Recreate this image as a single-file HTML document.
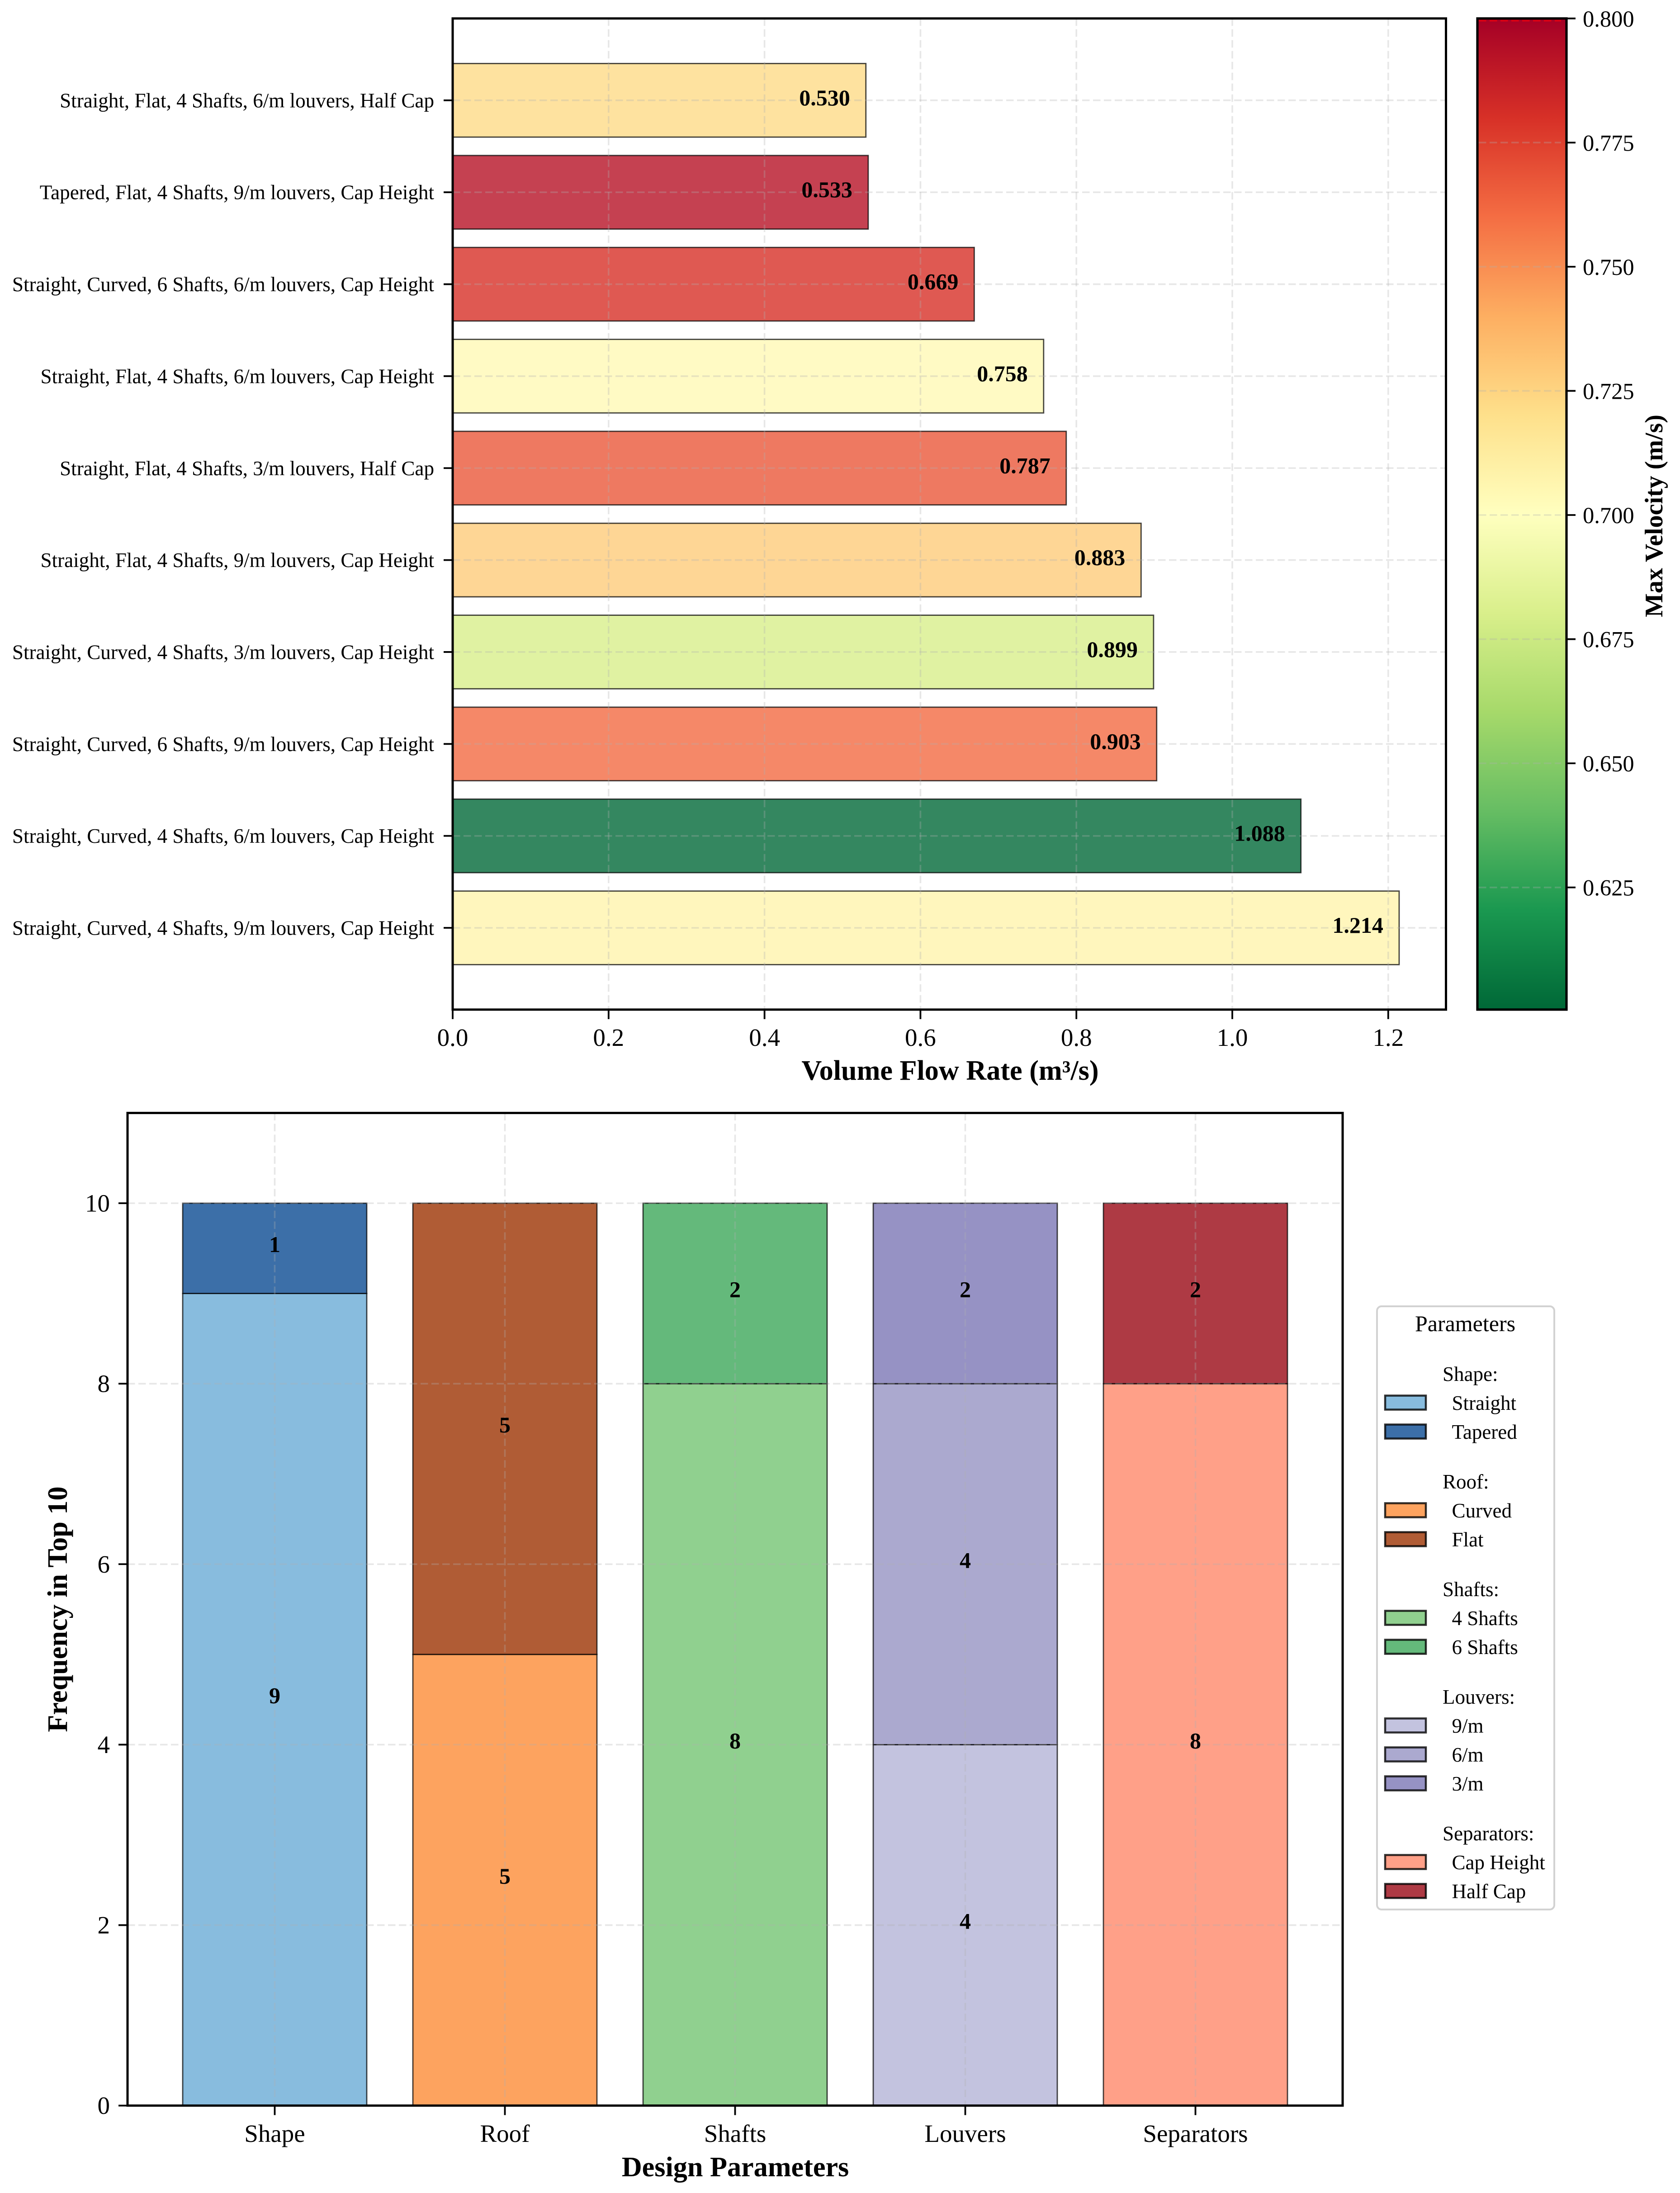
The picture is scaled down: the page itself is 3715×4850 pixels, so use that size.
<!DOCTYPE html>
<html lang="en">
<head>
<meta charset="utf-8">
<title>Top 10 ventilation designs: flow rate and parameter frequency</title>
<style>
html,body{margin:0;padding:0;background:#fff;}
svg{display:block;}
text{font-family:"Liberation Serif","Times New Roman",serif;fill:#000;}
</style>
</head>
<body>
<svg id="chart" xmlns="http://www.w3.org/2000/svg" width="3715" height="4850" viewBox="0 0 3715 4850">
  <defs>
    <linearGradient id="cbar-gradient" x1="0" y1="1" x2="0" y2="0"></linearGradient>
  </defs>
  <rect x="0" y="0" width="3715" height="4850" fill="#fff"/>
  <g id="flow-group"></g>
  <g id="cbar-group"></g>
  <g id="freq-group"></g>
  <g id="legend-group"></g>
</svg>
<script>
// ---------- data: flow chart (listed bottom bar first) ----------
const designNames = [
  'Straight, Curved, 4 Shafts, 9/m louvers, Cap Height',
  'Straight, Curved, 4 Shafts, 6/m louvers, Cap Height',
  'Straight, Curved, 6 Shafts, 9/m louvers, Cap Height',
  'Straight, Curved, 4 Shafts, 3/m louvers, Cap Height',
  'Straight, Flat, 4 Shafts, 9/m louvers, Cap Height',
  'Straight, Flat, 4 Shafts, 3/m louvers, Half Cap',
  'Straight, Flat, 4 Shafts, 6/m louvers, Cap Height',
  'Straight, Curved, 6 Shafts, 6/m louvers, Cap Height',
  'Tapered, Flat, 4 Shafts, 9/m louvers, Cap Height',
  'Straight, Flat, 4 Shafts, 6/m louvers, Half Cap'
];
const flowRates = [1.214, 1.088, 0.903, 0.899, 0.883, 0.787, 0.758, 0.669, 0.533, 0.530];
const maxVelocities = [0.707, 0.601, 0.761, 0.680, 0.728, 0.767, 0.704, 0.780, 0.793, 0.722];
const flowTicks = [0.0, 0.2, 0.4, 0.6, 0.8, 1.0, 1.2];
const velocityTicks = [0.625, 0.650, 0.675, 0.700, 0.725, 0.750, 0.775, 0.800];
const velocityMin = 0.6004;
const velocityMax = 0.8;

// ---------- data: frequency chart ----------
const paramNames = ['Shape', 'Roof', 'Shafts', 'Louvers', 'Separators'];
const optionLabels = [
  ['Straight', 'Tapered'],
  ['Curved', 'Flat'],
  ['4 Shafts', '6 Shafts'],
  ['9/m', '6/m', '3/m'],
  ['Cap Height', 'Half Cap']
];
const optionCounts = [
  [9, 1],
  [5, 5],
  [8, 2],
  [4, 4, 2],
  [8, 2]
];
const optionColors = [
  ['#88bcde', '#3c6fa8'],
  ['#fda35f', '#b05c35'],
  ['#90d08f', '#64b97b'],
  ['#c3c3df', '#aba9cf', '#9692c4'],
  ['#ffa088', '#ae3a44']
];
const frequencyTicks = [0, 2, 4, 6, 8, 10];

// ---------- colormap ----------
const rdYlGnR = ['#006837','#1a9850','#66bd63','#a6d96a','#d9ef8b','#ffffbf','#fee08b','#fdae61','#f46d43','#d73027','#a50026'];
function hexRgb(h){return [1,3,5].map(i=>parseInt(h.substr(i,2),16));}
function cmap(t){
  t=Math.max(0,Math.min(1,t));
  const p=t*(rdYlGnR.length-1), i=Math.min(Math.floor(p),rdYlGnR.length-2), f=p-i;
  const a=hexRgb(rdYlGnR[i]), b=hexRgb(rdYlGnR[i+1]);
  return 'rgb('+a.map((c,k)=>Math.round(c+(b[k]-c)*f)).join(',')+')';
}

// ---------- helpers ----------
const NS='http://www.w3.org/2000/svg';
function el(parent,tag,attrs,txt){
  const n=document.createElementNS(NS,tag);
  for(const k in attrs)n.setAttribute(k,attrs[k]);
  if(txt!==undefined)n.textContent=txt;
  parent.appendChild(n);
  return n;
}
const GRID={stroke:'#b0b0b0','stroke-opacity':0.3,'stroke-width':3.6,'stroke-dasharray':'16.5 7.5',fill:'none'};
const EDGE={stroke:'#000','stroke-opacity':0.72,'stroke-width':2.8};

// ---------- scales ----------
const axT={l:1001,r:3197.5,t:40.8,b:2232.8};
const xFlow=v=>axT.l+v*1724;
const yRow=i=>2052-i*203.35;
const barThick=162.7;
const cbx={l:3267,r:3464,t:40.8,b:2232.8};
const yVel=v=>cbx.t+(velocityMax-v)*(cbx.b-cbx.t)/(velocityMax-velocityMin);
const axB={l:282,r:2969,t:2461.4,b:4656.7};
const xCat=i=>607.5+i*509;
const catWidth=407;
const yFreq=v=>axB.b-v*199.57;

// ---------- flow chart ----------
const gFlow=document.getElementById('flow-group');
designNames.forEach((name,i)=>{
  const bar=el(gFlow,'rect',Object.assign({x:xFlow(0),y:yRow(i)-barThick/2,width:xFlow(flowRates[i])-xFlow(0),height:barThick,fill:cmap((maxVelocities[i]-velocityMin)/(velocityMax-velocityMin)),'fill-opacity':0.8},EDGE));
  
  
});
flowTicks.forEach(t=>{
  const g=el(gFlow,'line',Object.assign({x1:xFlow(t),x2:xFlow(t),y1:axT.t,y2:axT.b},GRID));
  
  
  const tk=el(gFlow,'line',{x1:xFlow(t),x2:xFlow(t),y1:axT.b,y2:axT.b+21,stroke:'#000','stroke-width':3.8});
  
  
  const lb=el(gFlow,'text',{x:xFlow(t),y:2313,'font-size':55,'text-anchor':'middle'},t.toFixed(1));
  
  
});
designNames.forEach((name,i)=>{
  const g=el(gFlow,'line',Object.assign({x1:axT.l,x2:axT.r,y1:yRow(i),y2:yRow(i)},GRID));
  
  
  const tk=el(gFlow,'line',{x1:axT.l-20,x2:axT.l,y1:yRow(i),y2:yRow(i),stroke:'#000','stroke-width':3.8});
  
  
  const lb=el(gFlow,'text',{x:960,y:yRow(i)+15.5,'font-size':45.1,'text-anchor':'end'},name);
  
  
  const val=el(gFlow,'text',{x:xFlow(flowRates[i])-35,y:yRow(i)+11,'font-size':50,'font-weight':'bold','text-anchor':'end'},flowRates[i].toFixed(3));
  
  
});
const spineFlow=el(gFlow,'rect',{x:axT.l,y:axT.t,width:axT.r-axT.l,height:axT.b-axT.t,fill:'none',stroke:'#000','stroke-width':5});


const xTitle=el(gFlow,'text',{x:2101,y:2388,'font-size':62.2,'font-weight':'bold','text-anchor':'middle'},'Volume Flow Rate (m³/s)');



// ---------- colorbar ----------
const grad=document.getElementById('cbar-gradient');
rdYlGnR.forEach((c,i)=>{
  const s=el(grad,'stop',{offset:(i/(rdYlGnR.length-1)*100)+'%','stop-color':c});
  
  
});
const gCb=document.getElementById('cbar-group');
const cbFill=el(gCb,'rect',{x:cbx.l,y:cbx.t,width:cbx.r-cbx.l,height:cbx.b-cbx.t,fill:'url(#cbar-gradient)'});


velocityTicks.forEach(t=>{
  const atTop=t===velocityMax;
  const g=el(gCb,'line',Object.assign({},GRID,{x1:cbx.l+3,x2:cbx.r-12,y1:atTop?yVel(t)+5:yVel(t),y2:atTop?yVel(t)+5:yVel(t)},atTop?{stroke:'#e00012','stroke-opacity':0.9}:{}));
  
  
  const tk=el(gCb,'line',{x1:cbx.r,x2:cbx.r+20,y1:yVel(t),y2:yVel(t),stroke:'#000','stroke-width':3.8});
  
  
  const lb=el(gCb,'text',{x:3500,y:yVel(t)+18,'font-size':50.5},t.toFixed(3));
  
  
});
const cbFrame=el(gCb,'rect',{x:cbx.l,y:cbx.t,width:cbx.r-cbx.l,height:cbx.b-cbx.t,fill:'none',stroke:'#000','stroke-width':5.2});


const cbTitle=el(gCb,'text',{x:0,y:0,transform:'translate(3676,1141) rotate(-90)','font-size':56,'font-weight':'bold','text-anchor':'middle'},'Max Velocity (m/s)');



// ---------- frequency chart ----------
const gFreq=document.getElementById('freq-group');
paramNames.forEach((p,i)=>{
  let base=0;
  optionCounts[i].forEach((count,j)=>{
    const seg=el(gFreq,'rect',Object.assign({x:xCat(i)-catWidth/2,y:yFreq(base+count),width:catWidth,height:yFreq(base)-yFreq(base+count),fill:optionColors[i][j]},EDGE));
    
    
    base+=count;
  });
});
frequencyTicks.forEach(t=>{
  const g=el(gFreq,'line',Object.assign({x1:axB.l,x2:axB.r,y1:yFreq(t),y2:yFreq(t)},GRID));
  
  
  const tk=el(gFreq,'line',{x1:axB.l-20,x2:axB.l,y1:yFreq(t),y2:yFreq(t),stroke:'#000','stroke-width':3.8});
  
  
  const lb=el(gFreq,'text',{x:243,y:yFreq(t)+18.5,'font-size':55,'text-anchor':'end'},String(t));
  
  
});
paramNames.forEach((p,i)=>{
  const g=el(gFreq,'line',Object.assign({x1:xCat(i),x2:xCat(i),y1:axB.t,y2:axB.b},GRID));
  
  
  const tk=el(gFreq,'line',{x1:xCat(i),x2:xCat(i),y1:axB.b,y2:axB.b+21,stroke:'#000','stroke-width':3.8});
  
  
  const lb=el(gFreq,'text',{x:xCat(i),y:4737,'font-size':55,'text-anchor':'middle'},p);
  
  
  let base=0;
  optionCounts[i].forEach(count=>{
    const v=el(gFreq,'text',{x:xCat(i),y:yFreq(base+count/2)+8,'font-size':50,'font-weight':'bold','text-anchor':'middle'},String(count));
    
    
    base+=count;
  });
});
const spineFreq=el(gFreq,'rect',{x:axB.l,y:axB.t,width:axB.r-axB.l,height:axB.b-axB.t,fill:'none',stroke:'#000','stroke-width':5});


const xTitle2=el(gFreq,'text',{x:1626,y:4813,'font-size':62.2,'font-weight':'bold','text-anchor':'middle'},'Design Parameters');


const yTitle2=el(gFreq,'text',{x:0,y:0,transform:'translate(148,3559) rotate(-90)','font-size':62.2,'font-weight':'bold','text-anchor':'middle'},'Frequency in Top 10');



// ---------- legend ----------
const gLeg=document.getElementById('legend-group');
const box=el(gLeg,'rect',{x:3045,y:2889,width:392,height:1334,rx:10,ry:10,fill:'#fff',stroke:'#d2d2d2','stroke-width':4});


const legTitle=el(gLeg,'text',{x:3240,y:2944,'font-size':50,'text-anchor':'middle'},'Parameters');


let rowY=3038;
paramNames.forEach((p,i)=>{
  const h=el(gLeg,'text',{x:3190,y:rowY+16,'font-size':45},p+':');
  
  
  optionLabels[i].forEach((label,j)=>{
    rowY+=64;
    const sw=el(gLeg,'rect',{x:3063,y:rowY-15.5,width:90,height:31,fill:optionColors[i][j],stroke:'#000','stroke-opacity':0.8,'stroke-width':4.5});
    
    
    const t=el(gLeg,'text',{x:3210.5,y:rowY+16,'font-size':45},label);
    
    
  });
  rowY+=110;
});
</script>
</body>
</html>
